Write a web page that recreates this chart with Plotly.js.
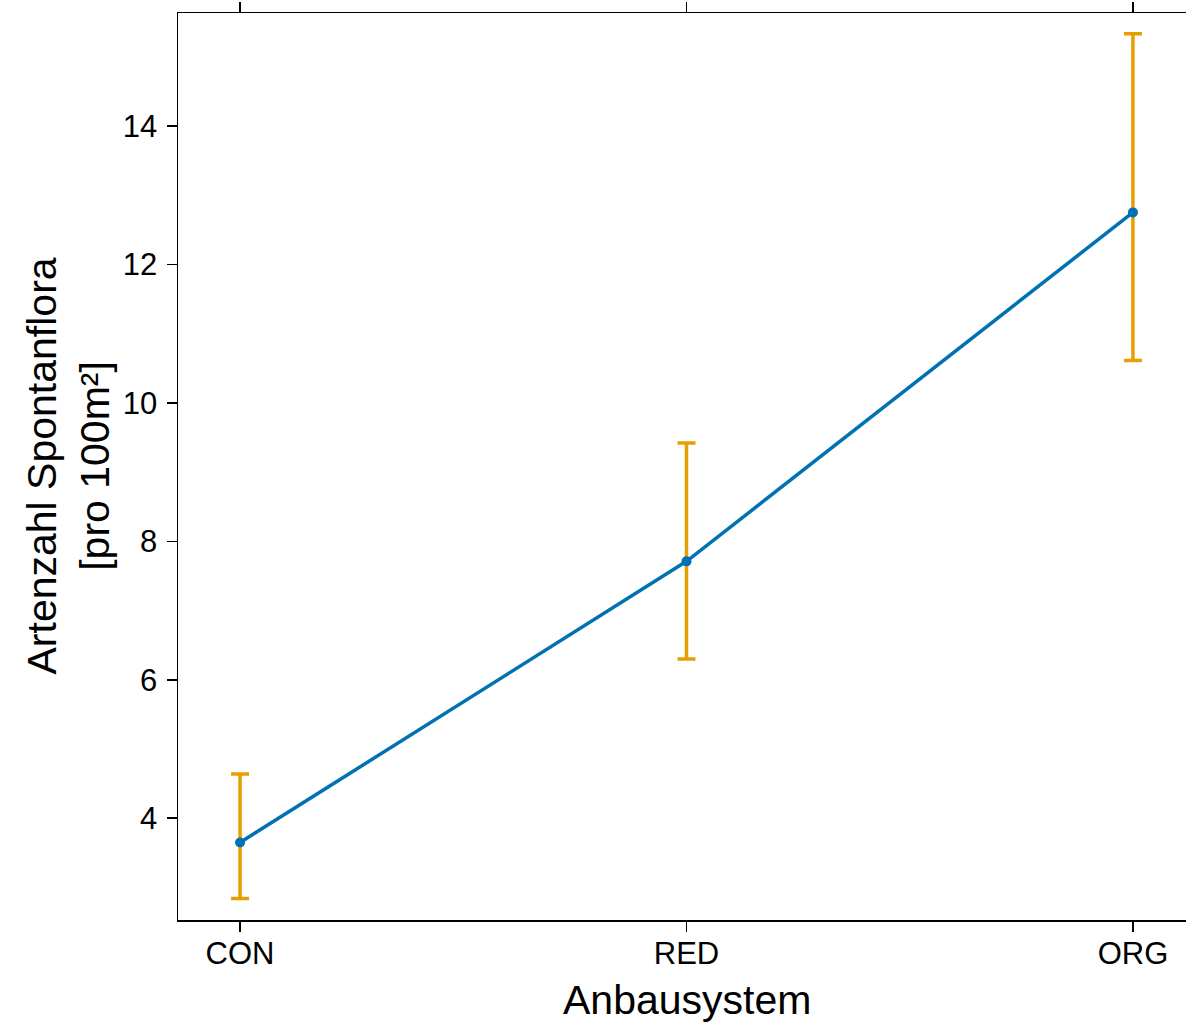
<!DOCTYPE html>
<html><head><meta charset="utf-8">
<script src="https://cdn.plot.ly/plotly-3.0.1.min.js"></script>
<style>html,body{margin:0;padding:0;overflow:hidden;background:#fff}</style>
</head><body><div id="chart"></div>
<script>
const categories = ['CON', 'RED', 'ORG'];
const means = [3.65, 7.71, 12.75];
const upper = [4.64, 9.42, 15.33];
const lower = [2.84, 6.30, 10.61];
const yTicks = [4, 6, 8, 10, 12, 14];

const xIdx = categories.map((c, i) => i);
const errPlus = upper.map((u, i) => u - means[i]);
const errMinus = lower.map((l, i) => means[i] - l);

const font = 'Arial, Liberation Sans, sans-serif';

const traces = [
  {
    x: xIdx, y: means, type: 'scatter', mode: 'markers',
    marker: {size: 0.1, color: 'rgba(0,0,0,0)'},
    error_y: {type: 'data', symmetric: false, array: errPlus, arrayminus: errMinus,
              color: '#E69F00', thickness: 3.5, width: 9},
    hoverinfo: 'skip', showlegend: false
  },
  {
    x: xIdx, y: means, type: 'scatter', mode: 'lines+markers',
    line: {color: '#0072B2', width: 3.5},
    marker: {color: '#0072B2', size: 10},
    showlegend: false
  },
  {
    x: xIdx, y: means, type: 'scatter', mode: 'none', xaxis: 'x2',
    hoverinfo: 'skip', showlegend: false
  }
];

const layout = {
  width: 1200, height: 1023,
  margin: {l: 178, r: 5, t: 13, b: 103},
  paper_bgcolor: '#fff', plot_bgcolor: '#fff',
  font: {family: font, color: '#000', size: 31},
  xaxis: {
    range: [-0.139, 2.139], tickmode: 'array', tickvals: xIdx, ticktext: categories,
    showgrid: false, zeroline: false, showline: true, linecolor: '#000', linewidth: 1.5,
    ticks: 'outside', ticklen: 10, tickwidth: 1.5, tickcolor: '#000',
    ticklabelstandoff: -5,
    tickfont: {size: 31, family: font, color: '#000'}
  },
  xaxis2: {
    overlaying: 'x', matches: 'x', side: 'top', range: [-0.139, 2.139],
    tickmode: 'array', tickvals: xIdx, showticklabels: false,
    showgrid: false, zeroline: false, showline: true, linecolor: '#000', linewidth: 1.5,
    ticks: 'outside', ticklen: 10, tickwidth: 1.5, tickcolor: '#000'
  },
  yaxis: {
    range: [2.53, 15.63], tickmode: 'array', tickvals: yTicks,
    showgrid: false, zeroline: false, showline: true, linecolor: '#000', linewidth: 1.5,
    ticks: 'outside', ticklen: 10, tickwidth: 1.5, tickcolor: '#000',
    ticklabelstandoff: 3,
    tickfont: {size: 31, family: font, color: '#000'}
  },
  annotations: [
    {text: 'Anbausystem', xref: 'paper', yref: 'paper', x: 0.5, y: 0, yshift: -80,
     xanchor: 'center', yanchor: 'middle', showarrow: false,
     font: {size: 41, family: font, color: '#000'}},
    {text: 'Artenzahl Spontanflora<br>[pro 100m²]', xref: 'paper', yref: 'paper',
     x: 0, xshift: -110, y: 0.5, yshift: 0, textangle: -90,
     xanchor: 'center', yanchor: 'middle', showarrow: false,
     font: {size: 41, family: font, color: '#000'}}
  ]
};
// center the x title at the middle category (plot area extends beyond the page)
layout.annotations[0].x = (687 - 178) / (1200 - 178 - 5);

Plotly.newPlot('chart', traces, layout, {displayModeBar: false, staticPlot: true});
</script></body></html>
